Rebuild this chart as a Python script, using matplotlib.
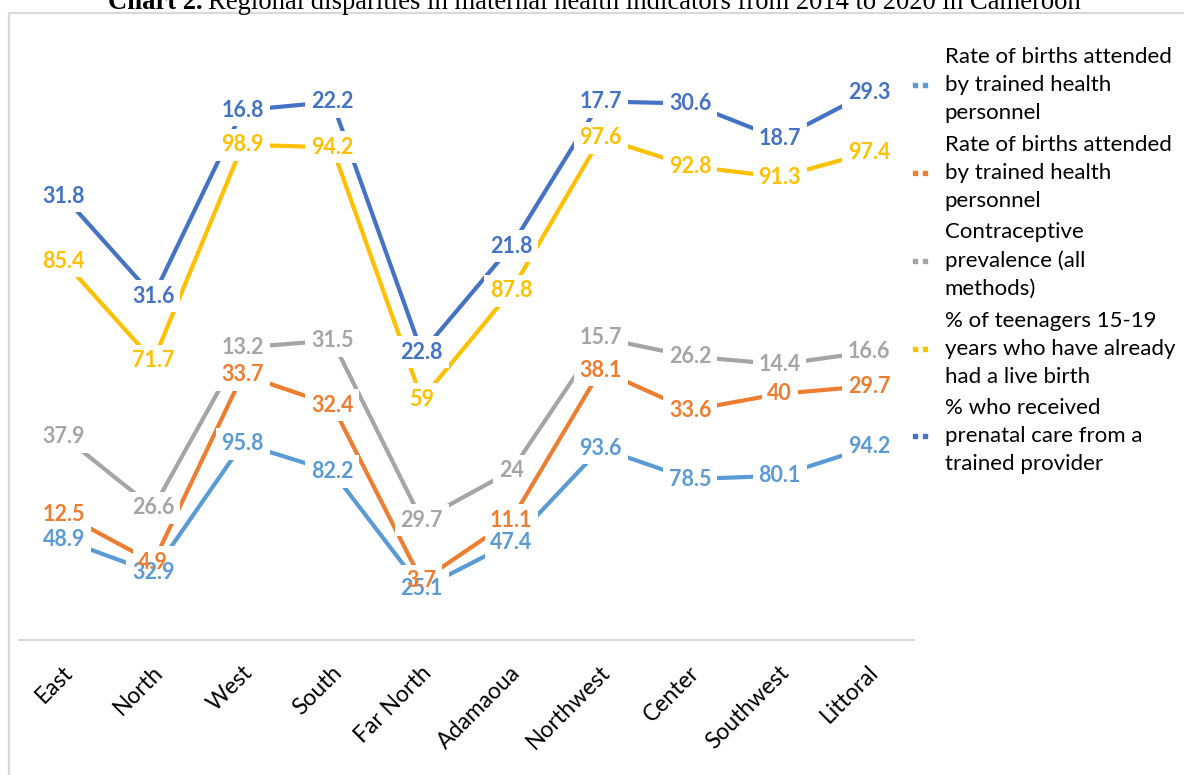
import matplotlib
matplotlib.use("Agg")
import matplotlib.pyplot as plt
from matplotlib.lines import Line2D
from matplotlib.patches import Rectangle
from matplotlib.transforms import ScaledTranslation
import numpy as np

regions = ["East", "North", "West", "South", "Far North", "Adamaoua",
           "Northwest", "Center", "Southwest", "Littoral"]
births_attended_1 = [48.9, 32.9, 95.8, 82.2, 25.1, 47.4, 93.6, 78.5, 80.1, 94.2]
births_attended_2 = [12.5, 4.9, 33.7, 32.4, 3.7, 11.1, 38.1, 33.6, 40, 29.7]
contraceptive = [37.9, 26.6, 13.2, 31.5, 29.7, 24, 15.7, 26.2, 14.4, 16.6]
teen_births = [85.4, 71.7, 98.9, 94.2, 59, 87.8, 97.6, 92.8, 91.3, 97.4]
prenatal_care = [31.8, 31.6, 16.8, 22.2, 22.8, 21.8, 17.7, 30.6, 18.7, 29.3]

series_names = [
    "Rate of births attended\nby trained health\npersonnel",
    "Rate of births attended\nby trained health\npersonnel",
    "Contraceptive\nprevalence (all\nmethods)",
    "% of teenagers 15-19\nyears who have already\nhad a live birth",
    "% who received\nprenatal care from a\ntrained provider",
]
colors = ["#5B9BD5", "#ED7D31", "#A5A5A5", "#FFC000", "#4472C4"]

W, H = 1184, 775
fig = plt.figure(figsize=(W / 100, H / 100), dpi=100)
plt.rcParams['font.family'] = ['Lato', 'DejaVu Sans']

# chart frame
fig.patches.append(Rectangle((9 / W, -0.01), 1.02, 1 - 13 / H + 0.01,
                             transform=fig.transFigure, fill=False,
                             edgecolor="#D9D9D9", linewidth=1.6))

# title (partly cut off at the top edge)
ty = 1 - 9 / H
t1 = fig.text(108 / W, ty, "Chart 2.", fontsize=19.2, weight="bold",
              family="Liberation Serif", va="baseline", ha="left")
fig.canvas.draw()
bb = t1.get_window_extent()
fig.text((bb.x1 + 5) / W, ty, "Regional disparities in maternal health indicators from 2014 to 2020 in Cameroon",
         fontsize=19.2, family="Liberation Serif", va="baseline", ha="left")

ax = fig.add_axes([19 / W, 135 / H, 895 / W, 615 / H])
x = np.arange(len(regions))
stack = np.array([births_attended_1, births_attended_2, contraceptive,
                  teen_births, prenatal_care])
tops = np.cumsum(stack, axis=0)

handles = []
for i in range(len(stack)):
    ax.plot(x, tops[i], color=colors[i], linewidth=3, solid_capstyle="butt", zorder=2)
    for xi, yi, v in zip(x, tops[i], stack[i]):
        # white box to open a gap in the lines, text drawn above all boxes
        ax.text(xi, yi, f"{v:g}", color="none", fontsize=15.5, weight="bold",
                ha="center", va="center", zorder=3,
                bbox=dict(facecolor="white", edgecolor="none", pad=4))
        ax.text(xi, yi, f"{v:g}", color=colors[i], fontsize=15.5, weight="bold",
                ha="center", va="center", zorder=4 + i)
    handles.append(Line2D([], [], color=colors[i], linestyle="none", marker="s",
                          markersize=3.5, markeredgecolor=colors[i]))

ax.set_xlim(-0.5, len(regions) - 0.5)
ax.set_ylim(0, 300)
for s in ["top", "right", "left"]:
    ax.spines[s].set_visible(False)
ax.spines["bottom"].set_color("#D9D9D9")
ax.spines["bottom"].set_linewidth(1.6)
ax.set_yticks([])
ax.set_xticks(x)
ax.set_xticklabels(regions, rotation=45, ha="right", va="center",
                   rotation_mode="anchor", fontsize=16.5)
ax.tick_params(axis="x", length=0, pad=21)
offset = ScaledTranslation(6 / 100, 0, fig.dpi_scale_trans)
for lab in ax.get_xticklabels():
    lab.set_transform(lab.get_transform() + offset)

leg = fig.legend(handles, series_names, loc="upper left",
                 bbox_to_anchor=(908 / W, 1 - 47 / H), frameon=False,
                 numpoints=2, handlelength=1.05, handletextpad=0.6,
                 labelspacing=0.52, fontsize=16, borderaxespad=0, borderpad=0)
for t in leg.get_texts():
    t.set_linespacing(1.5)

fig.savefig("out.png", dpi=100)
